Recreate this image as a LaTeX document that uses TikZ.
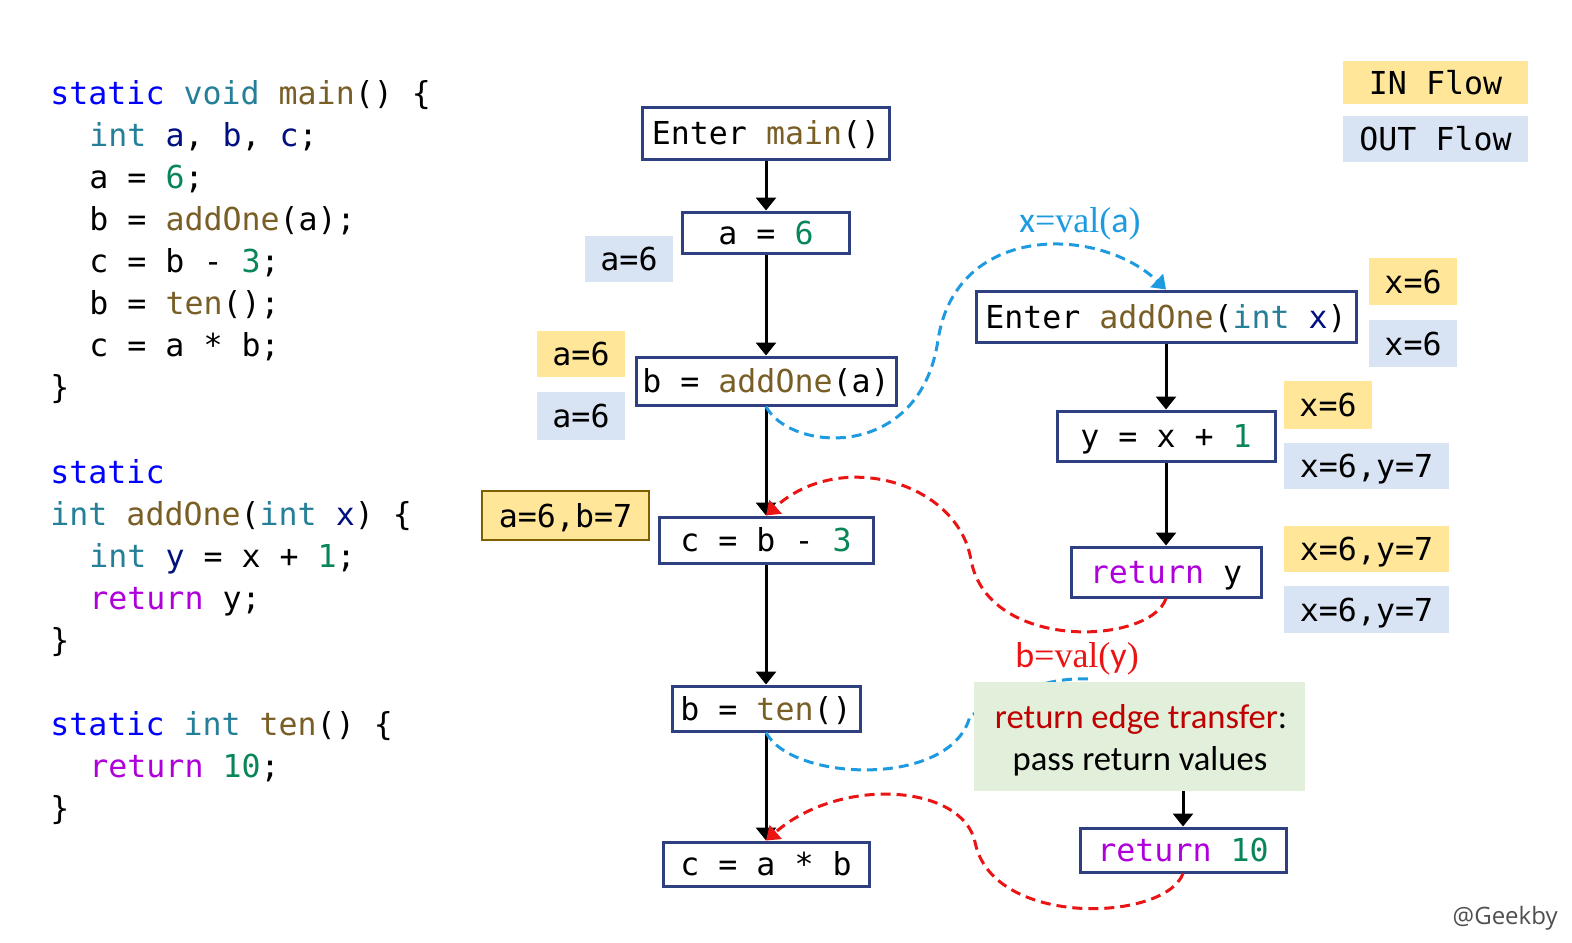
\documentclass[tikz,border=0pt]{standalone}
\usepackage{fontspec}
\setmonofont{DejaVu Sans Mono}
\newfontfamily\calfont{Carlito}
\newfontfamily\serfont{Liberation Serif}
\newfontfamily\wmfont{Open Sans}
\usetikzlibrary{arrows.meta}
\definecolor{kwc}{RGB}{0,0,255}
\definecolor{tyc}{RGB}{38,127,153}
\definecolor{fnc}{RGB}{121,94,38}
\definecolor{vrc}{RGB}{0,16,128}
\definecolor{nmc}{RGB}{9,134,88}
\definecolor{rtc}{RGB}{175,0,219}
\definecolor{boxc}{RGB}{46,64,128}
\definecolor{yel}{RGB}{255,230,153}
\definecolor{blu}{RGB}{216,227,243}
\definecolor{grn}{RGB}{226,239,218}
\definecolor{dred}{RGB}{192,0,0}
\definecolor{bld}{RGB}{30,155,224}
\definecolor{redd}{RGB}{235,20,20}
\definecolor{brn}{RGB}{127,96,0}
\definecolor{wmc}{RGB}{80,80,80}
\newcommand\codefont{\ttfamily\fontsize{15.8pt}{19pt}\selectfont}
\newcommand\cKw[1]{\textcolor{kwc}{#1}}
\newcommand\cTy[1]{\textcolor{tyc}{#1}}
\newcommand\cFn[1]{\textcolor{fnc}{#1}}
\newcommand\cVr[1]{\textcolor{vrc}{#1}}
\newcommand\cNm[1]{\textcolor{nmc}{#1}}
\newcommand\cRt[1]{\textcolor{rtc}{#1}}
\begin{document}
\begin{tikzpicture}[x=0.5pt,y=-0.5pt,
  code/.style={anchor=base west, inner sep=0pt, font=\codefont},
  cfg/.style={draw=boxc, line width=1.5pt, fill=white, inner sep=0pt, text height=11.5pt, text depth=0pt, font=\codefont},
  lbl/.style={inner sep=0pt, text height=11.5pt, text depth=0pt, font=\codefont},
  inflow/.style={lbl, fill=yel},
  outflow/.style={lbl, fill=blu},
  arr/.style={line width=1.5pt, -{Triangle[width=10pt,length=6.5pt]}},
  calldash/.style={draw=bld, line width=1.5pt, dash pattern=on 5pt off 3pt, -{Triangle[width=9pt,length=6.5pt]}},
  retdash/.style={draw=redd, line width=1.5pt, dash pattern=on 5pt off 3pt, -{Triangle[width=9pt,length=6.5pt]}},
  notefont/.style={font=\calfont\fontsize{17.3pt}{21pt}\selectfont}
]
\useasboundingbox (0,0) rectangle (1572,942);
\fill[white] (0,0) rectangle (1572,942);

% ---- code ----
\node[code] (l1) at (50,104) {\cKw{static} \cTy{void} \cFn{main}() \{};
\node[code] (l2) at (89,146) {\cTy{int} \cVr{a}, \cVr{b}, \cVr{c};};
\node[code] (l3) at (89,188) {a = \cNm{6};};
\node[code] (l4) at (89,230) {b = \cFn{addOne}(a);};
\node[code] (l5) at (89,272) {c = b - \cNm{3};};
\node[code] (l6) at (89,314) {b = \cFn{ten}();};
\node[code] (l7) at (89,356) {c = a * b;};
\node[code] (l8) at (50,398) {\}};
\node[code] (l9) at (50,483) {\cKw{static}};
\node[code] (l10) at (50,525) {\cTy{int} \cFn{addOne}(\cTy{int} \cVr{x}) \{};
\node[code] (l11) at (89,567) {\cTy{int} \cVr{y} = x + \cNm{1};};
\node[code] (l12) at (89,609) {\cRt{return} y;};
\node[code] (l13) at (50,651) {\}};
\node[code] (l14) at (50,735) {\cKw{static} \cTy{int} \cFn{ten}() \{};
\node[code] (l15) at (89,777) {\cRt{return} \cNm{10};};
\node[code] (l16) at (50,819) {\}};

% ---- legend ----
\node[inflow, minimum width=92.5pt, minimum height=21.5pt] (inl) at (1435.5,82.5) {IN Flow};
\node[outflow, minimum width=92.5pt, minimum height=23pt] (outl) at (1435.5,139) {OUT Flow};

% ---- main CFG ----
\node[cfg, minimum width=123.5pt, minimum height=26pt] (em) at (766,133) {Enter \cFn{main}()};
\node[cfg, minimum width=83.5pt, minimum height=20.5pt] (a6) at (766,232.5) {a = \cNm{6}};
\node[cfg, minimum width=130pt, minimum height=24pt] (bao) at (766,381) {b = \cFn{addOne}(a)};
\node[cfg, minimum width=107pt, minimum height=23pt] (cb3) at (766,540) {c = b - \cNm{3}};
\node[cfg, minimum width=94pt, minimum height=22.5pt] (bten) at (766,708.5) {b = \cFn{ten}()};
\node[cfg, minimum width=103pt, minimum height=22pt] (cab) at (766,864) {c = a * b};

% ---- addOne CFG ----
\node[cfg, minimum width=190pt, minimum height=25.5pt] (eao) at (1166,316.5) {Enter \cFn{addOne}(\cTy{int} \cVr{x})};
\node[cfg, minimum width=109pt, minimum height=25pt] (yx1) at (1166,436) {y = x + \cNm{1}};
\node[cfg, minimum width=95pt, minimum height=25pt] (rety) at (1166,572) {\cRt{return} y};

% ---- flow labels ----
\node[outflow, minimum width=44pt, minimum height=23pt] (la1) at (629,259) {a=6};
\node[inflow, minimum width=44pt, minimum height=23pt] (la2) at (581,354) {a=6};
\node[outflow, minimum width=44pt, minimum height=24pt] (la3) at (581,415.5) {a=6};
\node[inflow, draw=brn, line width=1.4pt, minimum width=83.5pt, minimum height=24.5pt] (lab) at (565.5,515.5) {a=6,b=7};
\node[inflow, minimum width=44pt, minimum height=23.5pt] (lx1) at (1413,281.5) {x=6};
\node[outflow, minimum width=44pt, minimum height=23.5pt] (lx2) at (1413,343.5) {x=6};
\node[inflow, minimum width=44pt, minimum height=24pt] (lx3) at (1328,405) {x=6};
\node[outflow, minimum width=82.5pt, minimum height=23pt] (lx4) at (1366.5,466) {x=6,y=7};
\node[inflow, minimum width=82.5pt, minimum height=23pt] (lx5) at (1366.5,549) {x=6,y=7};
\node[outflow, minimum width=82.5pt, minimum height=23.5pt] (lx6) at (1366.5,609.5) {x=6,y=7};

% ---- black edges ----
\draw[arr] (em) -- (a6);
\draw[arr] (a6) -- (bao);
\draw[arr] (bao) -- (cb3);
\draw[arr] (cb3) -- (bten);
\draw[arr] (bten) -- (cab);
\draw[arr] (eao) -- (yx1);
\draw[arr] (yx1) -- (rety);

% ---- call edge ----
\draw[calldash] (bao.south) .. controls (790,452) and (920,462) .. (938,340)
   .. controls (956,222) and (1100,226) .. (eao.north);
\node[font=\fontsize{18pt}{21pt}\selectfont, text=bld, anchor=base, inner sep=0pt] (xval) at (1080,232)
   {{\calfont x}{\serfont =val(}{\calfont a}{\serfont )}};

% ---- return edge from return y ----
\draw[retdash] (rety.south) .. controls (1150,645) and (988,652) .. (971,560)
   .. controls (958,482) and (840,448) .. (cb3.north);
\node[font=\fontsize{18pt}{21pt}\selectfont, text=redd, anchor=base, inner sep=0pt] (bval) at (1077,667)
   {{\calfont b}{\serfont =val(}{\calfont y}{\serfont )}};

% ---- call edge to ten (mostly hidden) ----
\coordinate (hid) at (1092,679);
\draw[draw=bld, line width=1.5pt, dash pattern=on 5pt off 3pt] (bten.south) .. controls (792,782) and (952,788) .. (970,716)
   .. controls (1000,700) and (1040,676) .. (hid);

% ---- note box ----
\node[fill=grn, inner sep=0pt, minimum width=165.5pt, minimum height=54.5pt] (note) at (1139.5,736.5) {};
\node[notefont, anchor=base, inner sep=0pt] (n1) at (1141,728) {\textcolor{dred}{return edge transfer}:};
\node[notefont, anchor=base, inner sep=0pt] (n2) at (1140,770) {pass return values};

\node[cfg, minimum width=103pt, minimum height=22pt] (r10) at (1183,850) {\cRt{return} \cNm{10}};
\draw[arr] (note.south -| r10.north) -- (r10.north);

% ---- return edge from return 10 ----
\draw[retdash] (r10.south) .. controls (1165,922) and (992,928) .. (975,842)
   .. controls (962,784) and (840,776) .. (cab.north);

% ---- watermark ----
\node[font=\wmfont\fontsize{12pt}{14pt}\selectfont, text=wmc, anchor=base east, inner sep=0pt] (wm) at (1558,924) {@Geekby};
\end{tikzpicture}
\end{document}
